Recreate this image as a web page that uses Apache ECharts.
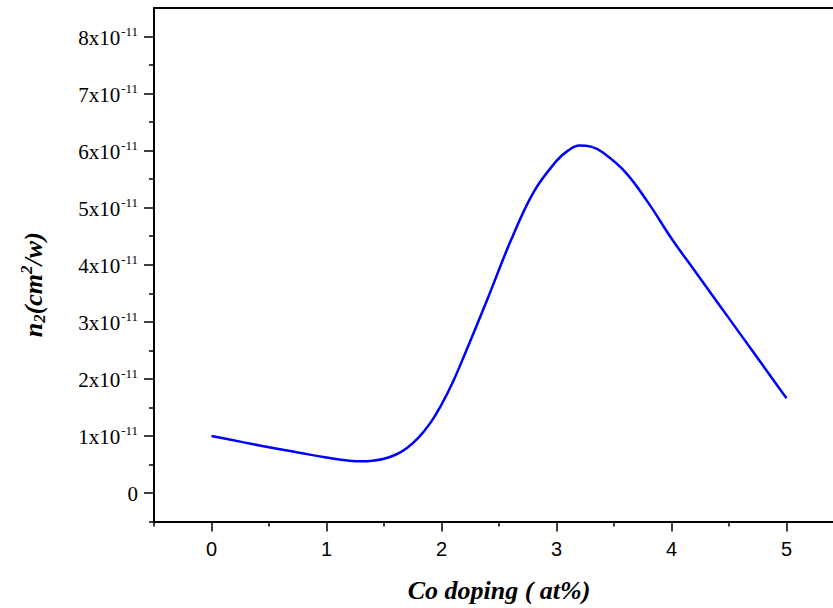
<!DOCTYPE html>
<html>
<head>
<meta charset="utf-8">
<script src="https://cdn.jsdelivr.net/npm/echarts@6/dist/echarts.min.js"></script>
<style>
  html, body { margin: 0; padding: 0; background: #fff; }
  #chart { width: 833px; height: 608px; }
</style>
</head>
<body>
<div id="chart"></div>
<script>
// Co doping level (at%) and nonlinear refractive index n2 (in units of 1e-11 cm^2/W)
const dopingX = [0, 0.25, 0.5, 0.75, 1.0, 1.1, 1.2, 1.3, 1.4, 1.5, 1.6, 1.7, 1.8, 1.9, 2.0, 2.1, 2.2, 2.4, 2.6, 2.8, 3.0, 3.1, 3.2, 3.3, 3.4, 3.6, 3.8, 4.0, 4.2, 4.4, 4.6, 4.8, 5.0];
const n2Values = [1.00, 0.90, 0.80, 0.71, 0.62, 0.59, 0.565, 0.555, 0.565, 0.60, 0.67, 0.79, 0.97, 1.22, 1.55, 1.95, 2.42, 3.40, 4.41, 5.27, 5.82, 6.00, 6.09, 6.07, 5.97, 5.62, 5.08, 4.46, 3.90, 3.34, 2.78, 2.22, 1.66];

// Tick positions
const xMajorTicks = [0, 1, 2, 3, 4, 5];
const xMinorTicks = [-0.5, 0.5, 1.5, 2.5, 3.5, 4.5];
const yMajorTicks = [0, 1, 2, 3, 4, 5, 6, 7, 8];
const yMinorTicks = [-0.5, 0.5, 1.5, 2.5, 3.5, 4.5, 5.5, 6.5, 7.5];
const yExponent = '-11';

const seriesData = dopingX.map((x, i) => [x, n2Values[i]]);

const AXIS_COLOR = '#000';
const serif = '"Liberation Serif", "Times New Roman", serif';
const sans = '"Liberation Sans", Arial, sans-serif';

const chart = echarts.init(document.getElementById('chart'), null, { renderer: 'svg' });

const X_MIN = -0.5, X_MAX = 5.5, Y_MIN = -0.5, Y_MAX = 8.5;

const boldItalic = { fontFamily: serif, fontWeight: 'bold', fontStyle: 'italic', color: '#000' };

chart.setOption({
  animation: false,
  backgroundColor: '#fff',
  // plot box runs slightly past the right edge of the canvas
  grid: { left: 154, top: 8, width: 690, bottom: 86.5, containLabel: false, outerBoundsMode: 'none' },
  xAxis: [
    {
      type: 'value', position: 'bottom', min: X_MIN, max: X_MAX,
      axisLine: { show: true, onZero: false, lineStyle: { color: AXIS_COLOR, width: 2 } },
      axisTick: { show: true, inside: false, length: 10, customValues: xMajorTicks, lineStyle: { color: AXIS_COLOR, width: 1.5 } },
      axisLabel: { show: true, customValues: xMajorTicks, margin: 17, color: '#000', fontFamily: sans, fontSize: 20 },
      splitLine: { show: false },
      name: 'Co doping ( at%)',
      nameLocation: 'middle',
      nameGap: 56,
      nameTextStyle: Object.assign({ fontSize: 26 }, boldItalic)
    },
    {
      type: 'value', position: 'bottom', min: X_MIN, max: X_MAX,
      axisLine: { show: false, onZero: false },
      axisTick: { show: true, length: 5, customValues: xMinorTicks, lineStyle: { color: AXIS_COLOR, width: 1.5 } },
      axisLabel: { show: false },
      splitLine: { show: false }
    },
    {
      type: 'value', position: 'top', min: X_MIN, max: X_MAX,
      axisLine: { show: true, onZero: false, lineStyle: { color: AXIS_COLOR, width: 2 } },
      axisTick: { show: false },
      axisLabel: { show: false },
      splitLine: { show: false }
    }
  ],
  yAxis: [
    {
      type: 'value', position: 'left', min: Y_MIN, max: Y_MAX,
      axisLine: { show: true, onZero: false, lineStyle: { color: AXIS_COLOR, width: 2 } },
      axisTick: { show: true, length: 10, customValues: yMajorTicks, lineStyle: { color: AXIS_COLOR, width: 1.5 } },
      axisLabel: {
        show: true, customValues: yMajorTicks, margin: 16, color: '#000',
        fontFamily: serif, fontSize: 21,
        formatter: v => (v === 0 ? '{b|0}' : '{b|' + v + 'x10}{s|' + yExponent + '}'),
        rich: {
          b: { fontFamily: serif, fontSize: 21, color: '#000', lineHeight: 24, verticalAlign: 'bottom' },
          s: { fontFamily: serif, fontSize: 13, color: '#000', lineHeight: 13, verticalAlign: 'top', padding: [0, 0, 0, 1] }
        }
      },
      splitLine: { show: false },
      name: '{i|n}{sub|2}{i|(cm}{sup|2}{i|/w)}',
      nameLocation: 'middle',
      nameGap: 106,
      nameRotate: 90,
      nameTextStyle: Object.assign({
        fontSize: 26,
        padding: [0, 40, 0, 0],
        rich: {
          i: Object.assign({ fontSize: 26, lineHeight: 30, verticalAlign: 'middle' }, boldItalic),
          sub: Object.assign({ fontSize: 17, lineHeight: 17, verticalAlign: 'bottom' }, boldItalic),
          sup: Object.assign({ fontSize: 17, lineHeight: 17, verticalAlign: 'top' }, boldItalic)
        }
      }, boldItalic)
    },
    {
      type: 'value', position: 'left', min: Y_MIN, max: Y_MAX,
      axisLine: { show: false, onZero: false },
      axisTick: { show: true, length: 5, customValues: yMinorTicks, lineStyle: { color: AXIS_COLOR, width: 1.5 } },
      axisLabel: { show: false },
      splitLine: { show: false }
    },
    {
      type: 'value', position: 'right', min: Y_MIN, max: Y_MAX,
      axisLine: { show: true, onZero: false, lineStyle: { color: AXIS_COLOR, width: 2 } },
      axisTick: { show: false },
      axisLabel: { show: false },
      splitLine: { show: false }
    }
  ],
  series: [
    {
      type: 'line',
      xAxisIndex: 0,
      yAxisIndex: 0,
      data: seriesData,
      smooth: 0.4,
      showSymbol: false,
      symbol: 'none',
      lineStyle: { color: '#0000ff', width: 2.5 },
      clip: false
    }
  ]
});
</script>
</body>
</html>
